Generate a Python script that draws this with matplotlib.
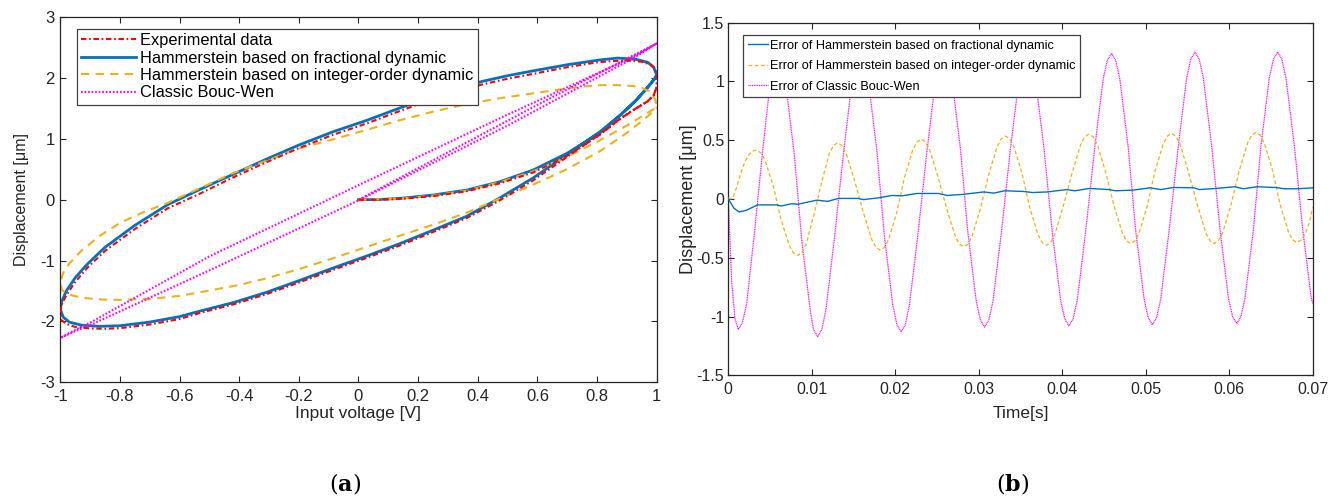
import matplotlib
matplotlib.use("Agg")
import matplotlib.pyplot as plt

plt.rcParams['font.family'] = ['Liberation Sans', 'DejaVu Sans']
plt.rcParams['axes.unicode_minus'] = False
plt.rcParams['mathtext.fontset'] = 'dejavuserif'

# ---------------- Panel (a) data: hysteresis loops ----------------
exp_x = [0.0, 0.07, 0.14, 0.25, 0.363, 0.474, 0.586, 0.698, 0.81, 0.88, 0.93, 0.97, 0.99, 1.0,
         1.0, 0.995, 0.98, 0.95, 0.9, 0.85, 0.8, 0.7, 0.586, 0.5, 0.418, 0.3, 0.139, 0.03, -0.0845,
         -0.2, -0.308, -0.42, -0.532, -0.64, -0.75, -0.85, -0.91, -0.95, -0.98, -0.995, -1.0,
         -0.998, -0.98, -0.95, -0.9, -0.85, -0.8, -0.7, -0.6, -0.532, -0.42, -0.308, -0.2, -0.0845,
         0.03, 0.139, 0.25, 0.363, 0.47, 0.586, 0.698, 0.81, 0.88, 0.93, 0.97, 0.99, 1.0]
exp_y = [0.0, 0.0, 0.015, 0.06, 0.14, 0.27, 0.45, 0.72, 1.07, 1.34, 1.50, 1.62, 1.72, 1.85,
         2.05, 2.15, 2.22, 2.27, 2.29, 2.28, 2.26, 2.18, 2.07, 1.99, 1.90, 1.75, 1.46, 1.26, 1.07,
         0.85, 0.62, 0.37, 0.10, -0.14, -0.48, -0.84, -1.12, -1.35, -1.57, -1.72, -1.85,
         -1.97, -2.04, -2.09, -2.115, -2.12, -2.11, -2.05, -1.96, -1.86, -1.72, -1.55, -1.36, -1.15,
         -0.95, -0.75, -0.53, -0.30, -0.02, 0.32, 0.70, 1.08, 1.34, 1.50, 1.62, 1.72, 1.85]

frac_x = [0.0, 0.07, 0.14, 0.251, 0.363, 0.474, 0.586, 0.698, 0.81, 0.88, 0.93, 0.97, 0.995, 1.0,
          0.99, 0.97, 0.93, 0.87, 0.81, 0.7, 0.586, 0.5, 0.418, 0.3, 0.139, 0.03, -0.0845, -0.2,
          -0.308, -0.42, -0.532, -0.64, -0.75, -0.85, -0.91, -0.95, -0.98, -0.995, -1.0,
          -0.99, -0.97, -0.93, -0.87, -0.8, -0.7, -0.6, -0.532, -0.42, -0.308, -0.2, -0.0845,
          0.03, 0.139, 0.25, 0.363, 0.47, 0.586, 0.698, 0.81, 0.88, 0.93, 0.97, 0.995, 1.0]
frac_y = [0.0, 0.005, 0.024, 0.079, 0.16, 0.297, 0.49, 0.76, 1.10, 1.40, 1.63, 1.85, 2.0, 2.05,
          2.18, 2.26, 2.31, 2.33, 2.30, 2.22, 2.12, 2.04, 1.95, 1.80, 1.51, 1.31, 1.12, 0.90,
          0.67, 0.42, 0.17, -0.08, -0.42, -0.78, -1.06, -1.28, -1.50, -1.67, -1.80,
          -1.93, -2.01, -2.06, -2.08, -2.07, -2.01, -1.92, -1.83, -1.69, -1.52, -1.33, -1.12,
          -0.92, -0.72, -0.50, -0.27, 0.02, 0.36, 0.74, 1.12, 1.40, 1.63, 1.85, 2.0, 2.05]

int_x = [0.0, 0.14, 0.25, 0.363, 0.474, 0.586, 0.698, 0.81, 0.9, 0.96, 1.0,
         0.995, 0.977, 0.95, 0.921, 0.87, 0.81, 0.75, 0.698, 0.6, 0.474, 0.35, 0.251, 0.14, 0.027,
         -0.08, -0.196, -0.3, -0.42, -0.532, -0.64, -0.72, -0.8, -0.87, -0.93, -0.97, -0.99, -1.0,
         -0.995, -0.975, -0.93, -0.86, -0.8, -0.7, -0.6, -0.532, -0.4, -0.308, -0.2, -0.0845, 0.0,
         0.139, 0.25, 0.363, 0.474, 0.586, 0.698, 0.81, 0.9, 0.96, 0.99, 1.0]
int_y = [0.0, 0.02, 0.07, 0.15, 0.29, 0.47, 0.70, 0.98, 1.22, 1.40, 1.52,
         1.65, 1.78, 1.84, 1.87, 1.885, 1.885, 1.86, 1.83, 1.76, 1.67, 1.56, 1.45, 1.31, 1.15,
         1.0, 0.85, 0.66, 0.44, 0.19, -0.05, -0.20, -0.38, -0.60, -0.84, -1.05, -1.20, -1.35,
         -1.48, -1.55, -1.61, -1.64, -1.645, -1.63, -1.58, -1.52, -1.40, -1.29, -1.14, -0.96, -0.82,
         -0.59, -0.41, -0.21, 0.02, 0.25, 0.50, 0.80, 1.10, 1.33, 1.46, 1.52]

bw_x = [0.0, 0.3, 0.6, 0.9, 1.0,
        0.95, 0.9, 0.5, 0.0, -0.5, -0.9, -0.95, -1.0,
        -0.95, -0.9, -0.5, 0.0, 0.5, 0.9, 0.95, 1.0]
bw_y = [0.0, 0.78, 1.56, 2.32, 2.57,
        2.43, 2.30, 1.40, 0.24, -0.93, -2.02, -2.14, -2.27,
        -2.16, -2.06, -1.16, -0.01, 1.22, 2.27, 2.41, 2.57]

a_xticks = [-1, -0.8, -0.6, -0.4, -0.2, 0, 0.2, 0.4, 0.6, 0.8, 1]
a_xticklabels = ['-1', '-0.8', '-0.6', '-0.4', '-0.2', '0', '0.2', '0.4', '0.6', '0.8', '1']
a_yticks = [-3, -2, -1, 0, 1, 2, 3]

# ---------------- Panel (b) data: errors over time ----------------
err_bw_t = [0.0, 0.0004, 0.0008, 0.0012, 0.0017, 0.0022, 0.0031, 0.0041, 0.0050, 0.0055, 0.0060,
            0.0065, 0.0069, 0.0079, 0.0088, 0.0098, 0.0102, 0.0107,
            0.0112, 0.0117, 0.0127, 0.0138, 0.0148, 0.0153, 0.0158,
            0.0163, 0.0168, 0.0178, 0.0187, 0.0197, 0.0202, 0.0207,
            0.0212, 0.0217, 0.0227, 0.0238, 0.0248, 0.0253, 0.0258,
            0.0263, 0.0268, 0.0278, 0.0287, 0.0297, 0.0302, 0.0307,
            0.0312, 0.0317, 0.0327, 0.0338, 0.0348, 0.0353, 0.0358,
            0.0363, 0.0368, 0.0378, 0.0388, 0.0398, 0.0403, 0.0408,
            0.0413, 0.0418, 0.0428, 0.0439, 0.0449, 0.0454, 0.0459,
            0.0464, 0.0469, 0.0479, 0.0488, 0.0498, 0.0503, 0.0508,
            0.0513, 0.0518, 0.0528, 0.0539, 0.0549, 0.0554, 0.0559,
            0.0564, 0.0569, 0.0579, 0.0589, 0.0599, 0.0604, 0.0609,
            0.0614, 0.0619, 0.0629, 0.0638, 0.0648, 0.0653, 0.0658,
            0.0663, 0.0668, 0.0678, 0.0688, 0.0698, 0.0700]
err_bw = [0.00, -0.70, -1.02, -1.11, -1.05, -0.89, -0.31, 0.40, 0.98, 1.14, 1.20,
          1.14, 0.97, 0.38, -0.35, -0.94, -1.11, -1.17,
          -1.11, -0.94, -0.34, 0.39, 0.99, 1.16, 1.22,
          1.16, 0.99, 0.41, -0.32, -0.90, -1.07, -1.13,
          -1.07, -0.90, -0.31, 0.41, 1.00, 1.17, 1.23,
          1.17, 1.01, 0.43, -0.29, -0.87, -1.03, -1.09,
          -1.03, -0.87, -0.29, 0.43, 1.01, 1.18, 1.235,
          1.18, 1.01, 0.44, -0.28, -0.86, -1.02, -1.08,
          -1.02, -0.86, -0.28, 0.44, 1.02, 1.18, 1.24,
          1.18, 1.02, 0.44, -0.27, -0.85, -1.01, -1.07,
          -1.01, -0.85, -0.27, 0.45, 1.03, 1.19, 1.25,
          1.19, 1.03, 0.45, -0.26, -0.84, -1.00, -1.06,
          -1.00, -0.84, -0.26, 0.45, 1.03, 1.19, 1.25,
          1.19, 1.03, 0.455, -0.255, -0.83, -0.89]

err_int_t = [0.0, 0.0003, 0.0006, 0.0010, 0.0015, 0.0020, 0.0025, 0.0030, 0.0034,
             0.0039, 0.0044, 0.0054, 0.0063, 0.0073, 0.0078, 0.0083,
             0.0088, 0.0093, 0.0102, 0.0112, 0.0121, 0.0126, 0.0131,
             0.0136, 0.0141, 0.0151, 0.0162, 0.0172, 0.0177, 0.0182,
             0.0187, 0.0192, 0.0202, 0.0211, 0.0221, 0.0226, 0.0231,
             0.0236, 0.0241, 0.0251, 0.0262, 0.0272, 0.0277, 0.0282,
             0.0287, 0.0292, 0.0302, 0.0312, 0.0322, 0.0327, 0.0332,
             0.0337, 0.0342, 0.0352, 0.0361, 0.0371, 0.0376, 0.0381,
             0.0386, 0.0391, 0.0401, 0.0412, 0.0422, 0.0427, 0.0432,
             0.0437, 0.0442, 0.0452, 0.0462, 0.0472, 0.0477, 0.0482,
             0.0487, 0.0492, 0.0502, 0.0511, 0.0521, 0.0526, 0.0531,
             0.0536, 0.0541, 0.0551, 0.0562, 0.0572, 0.0577, 0.0582,
             0.0587, 0.0592, 0.0602, 0.0612, 0.0622, 0.0627, 0.0632,
             0.0637, 0.0642, 0.0652, 0.0661, 0.0671, 0.0676, 0.0681,
             0.0686, 0.0691, 0.0696, 0.0700]
err_int = [0.01, 0.0, 0.02, 0.10, 0.22, 0.32, 0.38, 0.41, 0.415,
           0.393, 0.330, 0.106, -0.171, -0.395, -0.458, -0.48,
           -0.456, -0.389, -0.149, 0.147, 0.387, 0.455, 0.478,
           0.456, 0.391, 0.163, -0.120, -0.348, -0.413, -0.435,
           -0.412, -0.345, -0.109, 0.183, 0.419, 0.486, 0.509,
           0.487, 0.422, 0.193, -0.091, -0.320, -0.385, -0.407,
           -0.384, -0.317, -0.082, 0.210, 0.445, 0.512, 0.535,
           0.512, 0.446, 0.214, -0.072, -0.304, -0.370, -0.393,
           -0.370, -0.303, -0.066, 0.226, 0.462, 0.529, 0.552,
           0.529, 0.463, 0.230, -0.057, -0.290, -0.356, -0.379,
           -0.356, -0.290, -0.055, 0.234, 0.469, 0.535, 0.558,
           0.535, 0.469, 0.234, -0.055, -0.290, -0.356, -0.379,
           -0.356, -0.289, -0.053, 0.240, 0.476, 0.543, 0.566,
           0.543, 0.477, 0.243, -0.047, -0.281, -0.347, -0.370,
           -0.35, -0.30, -0.20, -0.07]

err_frac_t = [0.0, 0.0007, 0.0013, 0.0022, 0.0035, 0.0058, 0.0063, 0.0076, 0.0083, 0.0106,
              0.0119, 0.0132, 0.0155, 0.0162, 0.0180, 0.0196, 0.0208, 0.0226, 0.0252, 0.0262,
              0.0282, 0.0306, 0.0318, 0.0331, 0.0354, 0.0364, 0.0382, 0.0405, 0.0415, 0.0433,
              0.0456, 0.0464, 0.0484, 0.0505, 0.0518, 0.0533, 0.0558, 0.0564, 0.0584, 0.0607,
              0.0617, 0.0633, 0.0656, 0.0666, 0.0681, 0.0700]
err_frac = [0.0, -0.08, -0.11, -0.095, -0.05, -0.05, -0.06, -0.04, -0.045, -0.01,
            -0.02, 0.005, 0.005, -0.005, 0.01, 0.03, 0.027, 0.047, 0.047, 0.03,
            0.04, 0.06, 0.05, 0.07, 0.064, 0.055, 0.06, 0.08, 0.07, 0.09,
            0.08, 0.07, 0.075, 0.095, 0.08, 0.098, 0.095, 0.08, 0.09, 0.104,
            0.087, 0.104, 0.098, 0.087, 0.087, 0.095]

b_xticks = [0, 0.01, 0.02, 0.03, 0.04, 0.05, 0.06, 0.07]
b_xticklabels = ['0', '0.01', '0.02', '0.03', '0.04', '0.05', '0.06', '0.07']
b_yticks = [-1.5, -1, -0.5, 0, 0.5, 1, 1.5]
b_yticklabels = ['-1.5', '-1', '-0.5', '0', '0.5', '1', '1.5']

# ---------------- Colours ----------------
C_RED = '#FF0000'
C_BLUE = '#0072BD'
C_YEL = '#EDB120'
C_MAG = '#FF00FF'
C_TXT = '#262626'

fig = plt.figure(figsize=(13.38, 5.01), dpi=100)
axa = fig.add_axes([0.04507, 0.23693, 0.4457, 0.72854])
axb = fig.add_axes([0.54432, 0.25090, 0.43677, 0.70379])

# ---------------- Panel (a) ----------------
axa.plot(exp_x, exp_y, color=C_RED, lw=1.5, dashes=(2.6, 1.3, 0.8, 1.3), label='Experimental data', zorder=3)
axa.plot(frac_x, frac_y, color=C_BLUE, lw=2.0, label='Hammerstein based on fractional dynamic', zorder=2)
axa.plot(int_x, int_y, color=C_YEL, lw=1.5, dashes=(4, 3), label='Hammerstein based on integer-order dynamic', zorder=2)
axa.plot(bw_x, bw_y, color=C_MAG, lw=1.5, dashes=(0.8, 0.9), label='Classic Bouc-Wen', zorder=2)

axa.set_xlim(-1, 1)
axa.set_ylim(-3, 3)
axa.set_xticks(a_xticks)
axa.set_xticklabels(a_xticklabels)
axa.set_yticks(a_yticks)
axa.tick_params(direction='in', length=4, width=0.8, top=True, right=True, labelsize=12, pad=5, colors=C_TXT)
axa.tick_params(axis='y', pad=4)
for s in axa.spines.values():
    s.set_linewidth(0.9)
    s.set_color(C_TXT)
axa.set_xlabel('Input voltage [V]', fontsize=12.5, labelpad=1, color=C_TXT)
axa.set_ylabel('Displacement [μm]', fontsize=11.5, labelpad=8, color=C_TXT)
leg = axa.legend(loc='upper left', bbox_to_anchor=(0.0285, 0.968), borderaxespad=0,
                 fontsize=11.8, handlelength=3.35, handletextpad=0.25, labelspacing=0.15,
                 borderpad=0.25, fancybox=False, framealpha=1, edgecolor='#404040')
leg.get_frame().set_linewidth(0.9)

# ---------------- Panel (b) ----------------
axb.plot(err_bw_t, err_bw, color=C_MAG, lw=0.9, dashes=(0.8, 0.6), label='Error of Classic Bouc-Wen', zorder=2)
axb.plot(err_int_t, err_int, color=C_YEL, lw=0.9, dashes=(3, 2), label='Error of Hammerstein based on integer-order dynamic', zorder=3)
axb.plot(err_frac_t, err_frac, color=C_BLUE, lw=1.0, label='Error of Hammerstein based on fractional dynamic', zorder=4)

axb.set_xlim(0, 0.07)
axb.set_ylim(-1.5, 1.5)
axb.set_xticks(b_xticks)
axb.set_xticklabels(b_xticklabels)
axb.set_yticks(b_yticks)
axb.set_yticklabels(b_yticklabels)
axb.tick_params(direction='in', length=4, width=0.8, top=True, right=True, labelsize=11.5, pad=5, colors=C_TXT)
axb.tick_params(axis='y', pad=3)
for s in axb.spines.values():
    s.set_linewidth(0.9)
    s.set_color(C_TXT)
axb.set_xlabel('Time[s]', fontsize=12.5, labelpad=6, color=C_TXT)
axb.set_ylabel('Displacement [μm]', fontsize=13, labelpad=0, color=C_TXT)
h, l = axb.get_legend_handles_labels()
order = [2, 1, 0]
legb = axb.legend([h[i] for i in order], [l[i] for i in order], loc='upper left',
                  bbox_to_anchor=(0.0246, 0.965), borderaxespad=0, fontsize=9.2,
                  handlelength=1.6, handletextpad=0.15, labelspacing=0.65, borderpad=0.38,
                  fancybox=False, framealpha=1, edgecolor='#404040')
legb.get_frame().set_linewidth(0.9)

# ---------------- Captions ----------------
fig.text(345 / 1338, 1 - 483 / 501, r'$(\mathbf{a})$', ha='center', va='center', fontsize=16)
fig.text(1013 / 1338, 1 - 483 / 501, r'$(\mathbf{b})$', ha='center', va='center', fontsize=16)

fig.savefig('out.png', dpi=100)
